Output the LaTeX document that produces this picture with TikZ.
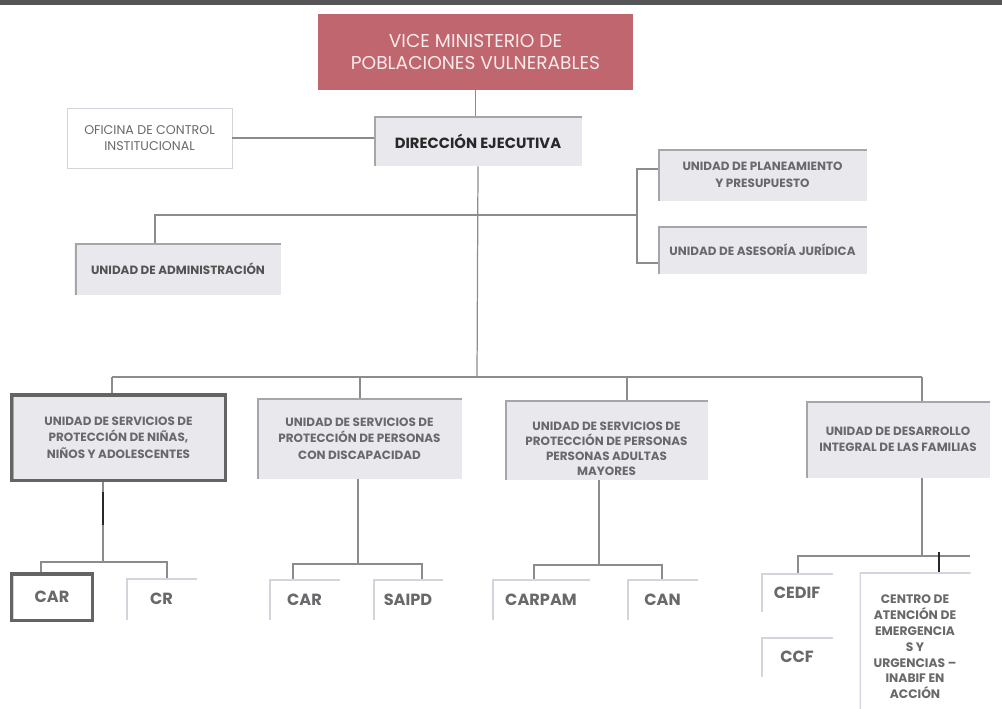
\documentclass[tikz,border=0pt]{standalone}
\usepackage{fontspec}
\setmainfont{Poppins}
\definecolor{vicered}{RGB}{192,102,110}
\definecolor{vicetext}{RGB}{250,234,235}
\definecolor{boxgray}{RGB}{233,233,237}
\definecolor{edgegray}{RGB}{165,165,170}
\definecolor{lightedge}{RGB}{212,212,220}
\definecolor{framegray}{RGB}{100,100,100}
\definecolor{unittext}{RGB}{105,105,108}
\definecolor{dirtext}{RGB}{40,40,40}
\definecolor{linegray}{RGB}{140,140,140}
\definecolor{topbar}{RGB}{85,85,88}
\begin{document}
\begin{tikzpicture}[x=0.2mm, y=-0.2mm,
    conn/.style={draw=linegray, line width=0.7pt},
    darkseg/.style={draw=dirtext, line width=1.3pt},
    vicebox/.style={fill=vicered, text=vicetext, align=center, inner sep=0pt,
        font=\fontsize{10.6}{13}\selectfont},
    graybox/.style={fill=boxgray, text=unittext, align=center, inner sep=0pt,
        font=\fontsize{6.8}{9.4}\selectfont\bfseries,
        path picture={\draw[edgegray, line width=2pt]
            (path picture bounding box.south west) -- (path picture bounding box.north west)
            -- (path picture bounding box.north east);}},
    thickbox/.style={graybox, draw=framegray, line width=0.7mm},
    smallbox/.style={fill=white, text=unittext, align=center, inner sep=0pt,
        font=\fontsize{9.2}{10}\selectfont\bfseries,
        path picture={\draw[lightedge, line width=2pt]
            (path picture bounding box.south west) -- (path picture bounding box.north west)
            -- (path picture bounding box.north east);}}]
    \useasboundingbox (0,0) rectangle (1002,708);
    \fill[topbar] (0,0) rectangle (1002,5);

    % top levels
    \node[vicebox, minimum width=63mm, minimum height=15.2mm] (vice) at (475.5,52)
        {VICE MINISTERIO DE\\POBLACIONES VULNERABLES};
    \node[graybox, text=dirtext, font=\fontsize{8.4}{10}\selectfont\bfseries,
        minimum width=41.6mm, minimum height=10mm] (dir) at (478,141) {DIRECCIÓN EJECUTIVA};
    \node[fill=white, draw=lightedge, line width=0.5pt, text=unittext, align=center,
        font=\fontsize{7.2}{9.4}\selectfont, minimum width=33mm, minimum height=12mm]
        (oci) at (149.5,138) {OFICINA DE CONTROL\\INSTITUCIONAL};
    \node[graybox, text=dirtext!80, minimum width=41.2mm, minimum height=10.4mm]
        (adm) at (178,269) {UNIDAD DE ADMINISTRACIÓN};
    \node[graybox, minimum width=41.8mm, minimum height=10.4mm] (plan) at (762.5,175)
        {UNIDAD DE PLANEAMIENTO\\Y PRESUPUESTO};
    \node[graybox, minimum width=41.8mm, minimum height=9.6mm] (ases) at (762.5,250)
        {UNIDAD DE ASESORÍA JURÍDICA};

    % units
    \node[thickbox, minimum width=42.7mm, minimum height=17.1mm] (u1) at (118.5,437.5)
        {UNIDAD DE SERVICIOS DE\\PROTECCIÓN DE NIÑAS,\\NIÑOS Y ADOLESCENTES};
    \node[graybox, minimum width=41mm, minimum height=16.2mm] (u2) at (359.5,438.5)
        {UNIDAD DE SERVICIOS DE\\PROTECCIÓN DE PERSONAS\\CON DISCAPACIDAD};
    \node[graybox, minimum width=40.6mm, minimum height=16mm,
        label={[text=unittext, align=center, font=\fontsize{6.8}{8.6}\selectfont\bfseries,
        yshift=-1.8mm]center:UNIDAD DE SERVICIOS DE\\PROTECCIÓN DE PERSONAS\\PERSONAS ADULTAS\\MAYORES}]
        (u3) at (606.5,440) {};
    \node[graybox, minimum width=36.8mm, minimum height=15.4mm] (u4) at (898,439.5)
        {UNIDAD DE DESARROLLO\\INTEGRAL DE LAS FAMILIAS};

    % centres
    \node[smallbox, draw=framegray, line width=0.7mm, minimum width=16.1mm, minimum height=9.3mm]
        (car1) at (52,597) {CAR};
    \node[smallbox, minimum width=14.2mm, minimum height=8.4mm] (cr) at (161.5,599) {CR};
    \node[smallbox, minimum width=14.2mm, minimum height=8.2mm] (car2) at (304.5,599.5) {CAR};
    \node[smallbox, minimum width=14mm, minimum height=8.2mm] (saipd) at (408,599.5) {SAIPD};
    \node[smallbox, minimum width=19.6mm, minimum height=8.2mm] (carpam) at (541,599.5) {CARPAM};
    \node[smallbox, minimum width=14.2mm, minimum height=8.2mm] (can) at (662.5,599.5) {CAN};
    \node[smallbox, minimum width=14.4mm, minimum height=7.8mm] (cedif) at (797,592.5) {CEDIF};
    \node[smallbox, minimum width=14.4mm, minimum height=8mm] (ccf) at (797,657) {CCF};
    \node[smallbox, font=\fontsize{7}{9}\selectfont\bfseries, minimum width=22.2mm,
        minimum height=30mm] (centro) at (915,647)
        {CENTRO DE\\ATENCIÓN DE\\EMERGENCIA\\S Y\\URGENCIAS –\\INABIF EN\\ACCIÓN};

    % upper connectors
    \draw[conn] (vice.south) -- (vice.south |- dir.north);
    \draw[conn] (oci.east) -- (oci.east -| dir.west);
    \coordinate (bus) at (477,377);
    \coordinate (admtop) at (155,215);
    \coordinate (brk) at (637,215);
    \coordinate (plstub) at (637,169);
    \coordinate (asstub) at (637,263);
    \draw[conn] (dir.south) -- (bus);
    \draw[conn] (admtop |- adm.north) -- (admtop) -- (brk);
    \draw[conn] (plstub -| plan.west) -- (plstub) -- (asstub) -- (asstub -| ases.west);

    % bus to units
    \coordinate (b1) at (112,377);
    \coordinate (b2) at (360,377);
    \coordinate (b3) at (627,377);
    \coordinate (b4) at (922,377);
    \draw[conn] (b1) -- (b4);
    \foreach \b/\u in {b1/u1, b2/u2, b3/u3, b4/u4}
        \draw[conn] (\b) -- (\b |- \u.north);

    % units to centres
    \coordinate (d1) at (103,562);
    \coordinate (l1) at (41,562);
    \coordinate (r1) at (167,562);
    \draw[conn] (d1 |- u1.south) -- (d1);
    \draw[darkseg] (d1 |- u1.south) ++(0,10) -- ++(0,33);
    \draw[conn] (l1 |- car1.north) -- (l1) -- (r1) -- (r1 |- cr.north);

    \coordinate (d2) at (358,564);
    \coordinate (l2) at (293,564);
    \coordinate (r2) at (422,564);
    \draw[conn] (d2 |- u2.south) -- (d2);
    \draw[conn] (l2 |- car2.north) -- (l2) -- (r2) -- (r2 |- saipd.north);

    \coordinate (d3) at (599,565);
    \coordinate (l3) at (534,565);
    \coordinate (r3) at (662,565);
    \draw[conn] (d3 |- u3.south) -- (d3);
    \draw[conn] (l3 |- carpam.north) -- (l3) -- (r3) -- (r3 |- can.north);

    \coordinate (d4) at (922,556);
    \coordinate (l4) at (798,556);
    \coordinate (r4) at (970,556);
    \coordinate (c4) at (939,556);
    \draw[conn] (d4 |- u4.south) -- (d4);
    \draw[conn] (l4 |- cedif.north) -- (l4) -- (r4);
    \draw[darkseg] (c4) ++(0,-4) -- (c4 |- centro.north);
\end{tikzpicture}
\end{document}
